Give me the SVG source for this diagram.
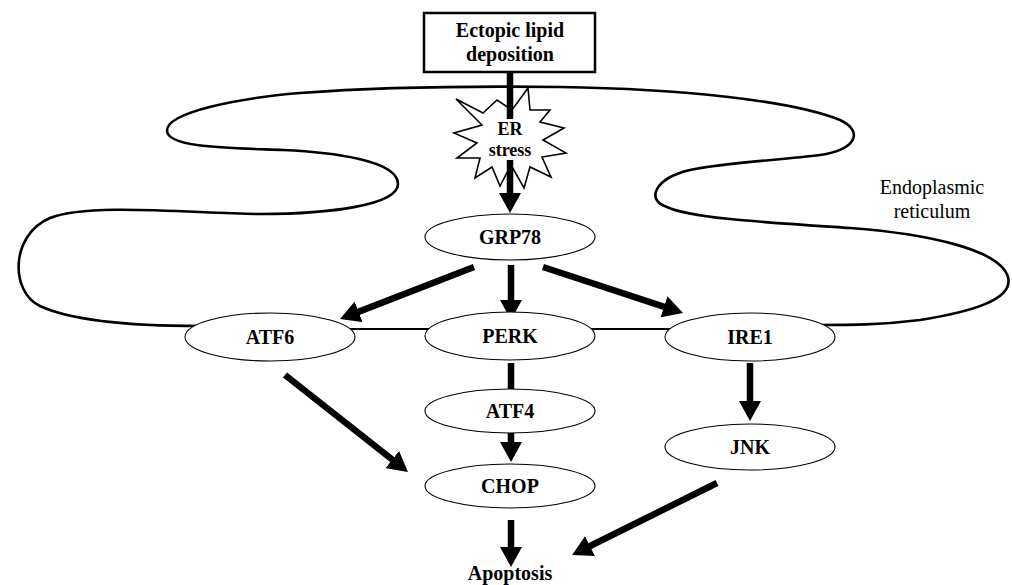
<svg xmlns="http://www.w3.org/2000/svg" width="1012" height="585" viewBox="0 0 1012 585">
<style>
.mem{fill:none;stroke:#000;stroke-width:2.6;stroke-linecap:round}
.link{fill:none;stroke:#000;stroke-width:2.2}
.node{fill:#fff;stroke:#000;stroke-width:1.1}
.lbl{font-family:'Liberation Serif','Tinos','DejaVu Serif',serif;font-weight:bold;font-size:20px;text-anchor:middle;fill:#000}
.er{font-family:'Liberation Serif','Tinos','DejaVu Serif',serif;font-size:20px;text-anchor:middle;fill:#000}
.arr{fill:none;stroke:#000;stroke-width:6.5}
.arrh{fill:none;stroke:#000;stroke-width:6.5;marker-end:url(#ah)}
</style>
<defs>
<marker id="ah" viewBox="0 0 20 22" refX="10" refY="11" markerWidth="20" markerHeight="22" markerUnits="userSpaceOnUse" orient="auto">
<path d="M0 0 L20 11 L0 22 Z" fill="#000"/>
</marker>
</defs>
<rect width="1012" height="585" fill="#fff"/>
<g id="membrane">
<path class="mem" d="M 200 326 C 130 326, 70 320, 40 306 C 10 292, 10 235, 50 218 C 90 202, 200 214, 260 214 C 330 214, 398 205, 398 184 C 398 160, 330 152, 283 150 C 230 148, 168 148, 167 131 C 166 112, 240 98, 300 93 C 380 87, 480 86, 560 87 C 680 89, 790 100, 840 120 C 865 132, 855 150, 820 155 C 780 160, 720 163, 690 170 C 655 178, 645 200, 667 207 C 690 218, 760 222, 850 228 C 930 234, 1000 250, 1008 277 C 1014 300, 970 312, 920 320 C 880 325, 850 325, 820 325"/>
<line class="link" x1="340" y1="329" x2="440" y2="329"/>
<line class="link" x1="580" y1="329" x2="680" y2="329"/>
<text class="er" x="932" y="194">Endoplasmic</text>
<text class="er" x="932" y="218">reticulum</text>
</g>
<g id="ectopic">
<rect x="424" y="13" width="171" height="59" fill="#fff" stroke="#000" stroke-width="2.5"/>
<text class="lbl" x="510" y="37">Ectopic lipid</text>
<text class="lbl" x="510" y="61">deposition</text>
</g>
<g id="er-stress">
<polygon points="456,99 483,113 497,100 512,110 528,88 530,110 550,110 540,122 564,128 543,140 566,153 542,157 551,177 530,167 524,188 511,165 500,186 492,167 475,178 480,158 457,158 477,143 454,133 482,125" fill="#fff" stroke="#000" stroke-width="1.6" stroke-linejoin="miter"/>
</g>
<g id="connectors">
<line class="arr" x1="510" y1="72" x2="510" y2="119"/>
<line class="arrh" x1="510" y1="160" x2="510" y2="203"/>
<line class="arrh" x1="474" y1="267" x2="349.3" y2="315.4"/>
<line class="arrh" x1="511" y1="265" x2="511" y2="310"/>
<line class="arrh" x1="543" y1="267" x2="673.5" y2="309.9"/>
<line class="arr" x1="511" y1="363" x2="511" y2="390"/>
<line class="arrh" x1="511" y1="432" x2="511" y2="452"/>
<line class="arrh" x1="285" y1="375" x2="400.1" y2="465.8"/>
<line class="arrh" x1="511" y1="520" x2="511" y2="557"/>
<line class="arrh" x1="750" y1="363" x2="750" y2="411"/>
<line class="arrh" x1="717" y1="483" x2="581" y2="550.5"/>
</g>
<g id="er-stress-label">
<text class="lbl" x="510" y="135" style="font-size:18px">ER</text>
<text class="lbl" x="510" y="156" style="font-size:18px">stress</text>
</g>
<g id="grp78"><ellipse class="node" cx="510" cy="237" rx="85" ry="23"/><text class="lbl" x="510" y="244">GRP78</text></g>
<g id="atf6"><ellipse class="node" cx="270" cy="337" rx="85" ry="24"/><text class="lbl" x="270" y="344">ATF6</text></g>
<g id="perk"><ellipse class="node" cx="510" cy="336" rx="85" ry="24"/><text class="lbl" x="510" y="343">PERK</text></g>
<g id="ire1"><ellipse class="node" cx="750" cy="337" rx="85" ry="24"/><text class="lbl" x="750" y="344">IRE1</text></g>
<g id="atf4"><ellipse class="node" cx="510" cy="411" rx="85" ry="22"/><text class="lbl" x="510" y="418">ATF4</text></g>
<g id="chop"><ellipse class="node" cx="510" cy="486" rx="85" ry="22"/><text class="lbl" x="510" y="493">CHOP</text></g>
<g id="jnk"><ellipse class="node" cx="750" cy="447" rx="85" ry="23"/><text class="lbl" x="750" y="454">JNK</text></g>
<g id="apoptosis"><text class="lbl" x="510" y="580">Apoptosis</text></g>
</svg>
